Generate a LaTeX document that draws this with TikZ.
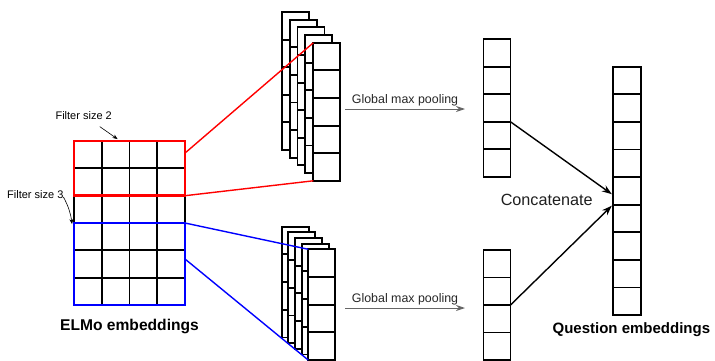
\documentclass[tikz,border=0pt]{standalone}
\usepackage{fontspec}
\setmainfont{Liberation Sans}
\usetikzlibrary{positioning}
\usetikzlibrary{arrows.meta, fit}

\tikzset{
 cell/.style={rectangle, draw, line width=1.9pt, fill=white,
  inner sep=0pt, outer sep=0pt, minimum width=27pt, minimum height=27.5pt},
 filterbox/.style={rectangle, draw, line width=2.8pt, inner sep=0pt, outer sep=0pt},
 pool/.style={-{Stealth[length=9pt, width=6pt]}, line width=1pt, color=black!60},
}

\begin{document}
\begin{tikzpicture}[x=1pt, y=-1pt]
 \useasboundingbox (0,0) rectangle (715,361);

 % ELMo matrix
 \foreach \r in {0,...,5}
  \foreach \c in {0,...,3}
   \node[cell, minimum width=27.75pt, minimum height=27.33pt] (e\r\c)
    at ({87.9+27.75*\c},{154.7+27.33*\r}) {};
 \node[filterbox, color=red, fit=(e00)(e13)] (f2) {};
 \node[filterbox, color=blue, fit=(e30)(e53)] (f3) {};

 % feature maps
 \foreach \k in {0,...,4}
  \foreach \i in {0,...,4}
   \node[cell, minimum height=27.6pt] (a\k\i)
    at ({295.2+7.9*\k},{25.8+7.7*\k+27.6*\i}) {};
 \foreach \k in {0,...,4}
  \foreach \i in {0,...,3}
   \node[cell, minimum height=27.7pt] (b\k\i)
    at ({295.2+6.65*\k},{240.55+5.65*\k+27.7*\i}) {};

 \draw [red, line width=1.4pt] ([yshift=-12pt]f2.north east) -- (a40.north west);
 \draw [red, line width=1.4pt] (f2.south east) -- (a44.south west);
 \draw [blue, line width=1.4pt] (f3.north east) -- (b40.north west);
 \draw [blue, line width=1.4pt] ([yshift=-36pt]f3.north east) -- (b43.south west);

 % pooled vectors
 \foreach \i in {0,...,4}
  \node[cell] (u\i) at (497,{53.05+27.5*\i}) {};
 \foreach \i in {0,...,3}
  \node[cell] (l\i) at (497,{263.75+27.5*\i}) {};
 \foreach \i in {0,...,8}
  \node[cell, minimum width=27.7pt, minimum height=27.6pt] (q\i) at (627.2,{80.5+27.6*\i}) {};

 \coordinate (g1) at (345,109);
 \coordinate (h1) at (465,109);
 \coordinate (g2) at (345,308);
 \coordinate (h2) at (465,308);
 \draw [pool] (g1) to node [above, inner sep=2pt, text=black!85, font=\fontsize{12.4}{14}\selectfont]{Global max pooling} (h1);
 \draw [pool] (g2) to node [above, inner sep=2pt, text=black!85, font=\fontsize{12.4}{14}\selectfont]{Global max pooling} (h2);

 \draw [-{Stealth[length=10pt, width=7pt]}, line width=1.4pt] (u3.north east) -- ([xshift=-1.5pt, yshift=10.5pt]q4.south west);
 \draw [-{Stealth[length=10pt, width=7pt]}, line width=1.4pt] (l2.north east) -- ([xshift=-1.5pt, yshift=-1pt]q4.south west);

 % labels
 \node [text=black!88, font=\fontsize{16.2}{19}\selectfont] (cat) at (546.7,200) {Concatenate};
 \node [font=\fontsize{15.6}{18}\selectfont\bfseries] (elmo) at (129.5,326.7) {ELMo embeddings};
 \node [font=\fontsize{15}{18}\selectfont\bfseries] (qemb) at (631.4,329.3) {Question embeddings};
 \node [font=\fontsize{11}{13}\selectfont] (fs2) at (83.7,116) {Filter size 2};
 \node [font=\fontsize{11}{13}\selectfont] (fs3) at (35.3,195) {Filter size 3};

 \draw [-{Stealth[length=5pt, width=4pt]}, line width=0.6pt] ([xshift=16pt, yshift=-3pt]fs2.south) -- ([xshift=-12pt, yshift=2pt]f2.north);
 \draw [-{Stealth[length=5pt, width=4pt]}, line width=0.6pt] ([xshift=-3.5pt, yshift=-2pt]fs3.east) to [bend left=10] ([xshift=-2pt, yshift=-1pt]f3.north west);
\end{tikzpicture}
\end{document}
